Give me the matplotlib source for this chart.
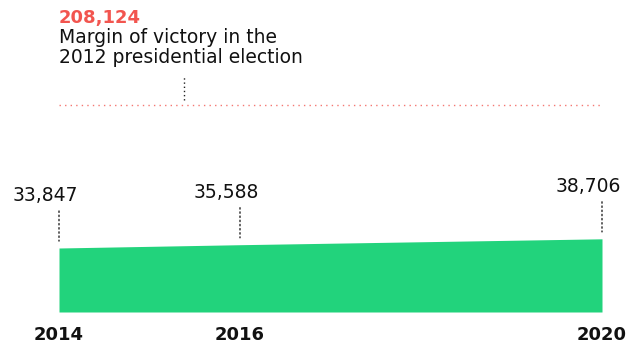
import numpy as np
import matplotlib.pyplot as plt

plt.rcParams['font.family'] = ['DejaVu Sans']

# Data
years = [2014, 2016, 2020]
values = [33847, 35588, 38706]
value_labels = ['33,847', '35,588', '38,706']
margin_label = '208,124'
margin_text = 'Margin of victory in the\n2012 presidential election'

green = '#22d37c'
red = '#f2554f'

W, H = 636, 345
fig = plt.figure(figsize=(W / 100, H / 100), dpi=100)
ax = fig.add_axes([59 / W, 33 / H, 543 / W, 312 / H])
ax.set_xlim(2014, 2020)
ax.set_ylim(0, 165000)
ax.axis('off')

ax.fill_between(years, values, 0, color=green, lw=0)

# value labels with dotted pointers
for x, v, lab in zip(years, values, value_labels):
    ax.annotate('', xy=(x, v), xytext=(0, 37), textcoords='offset pixels',
                arrowprops=dict(arrowstyle='-', linestyle=(0, (1, 2)), lw=1,
                                color='#222222', shrinkA=0, shrinkB=5))
    ax.annotate(lab, xy=(x, v), xytext=(-14, 47), textcoords='offset pixels',
                ha='center', va='baseline', fontsize=13.5, color='#111111',
                annotation_clip=False)

# broken-scale reference line for the 2012 margin
margin_frac = 0.663
ax.plot([0, 1], [margin_frac, margin_frac], transform=ax.transAxes,
        color=red, lw=1, linestyle=(0, (1, 3)), alpha=0.8, clip_on=False)
ax.plot([125 / 543, 125 / 543], [(312 - 100) / 312, (312 - 77) / 312],
        transform=ax.transAxes, color='#222222', lw=1,
        linestyle=(0, (1, 2)), clip_on=False)

fig.text(59 / W, 1 - 9 / H, margin_label, color=red, fontsize=13,
         fontweight='bold', ha='left', va='top')
fig.text(59 / W, 1 - 28 / H, margin_text, color='#111111', fontsize=13.5,
         ha='left', va='top', linespacing=1.05)

# year labels
for x in years:
    ax.annotate(str(x), xy=(x, 0), xytext=(0, -28), textcoords='offset pixels',
                ha='center', va='baseline', fontsize=13, fontweight='heavy',
                color='#111111', annotation_clip=False)

fig.savefig('out.png', dpi=100)
